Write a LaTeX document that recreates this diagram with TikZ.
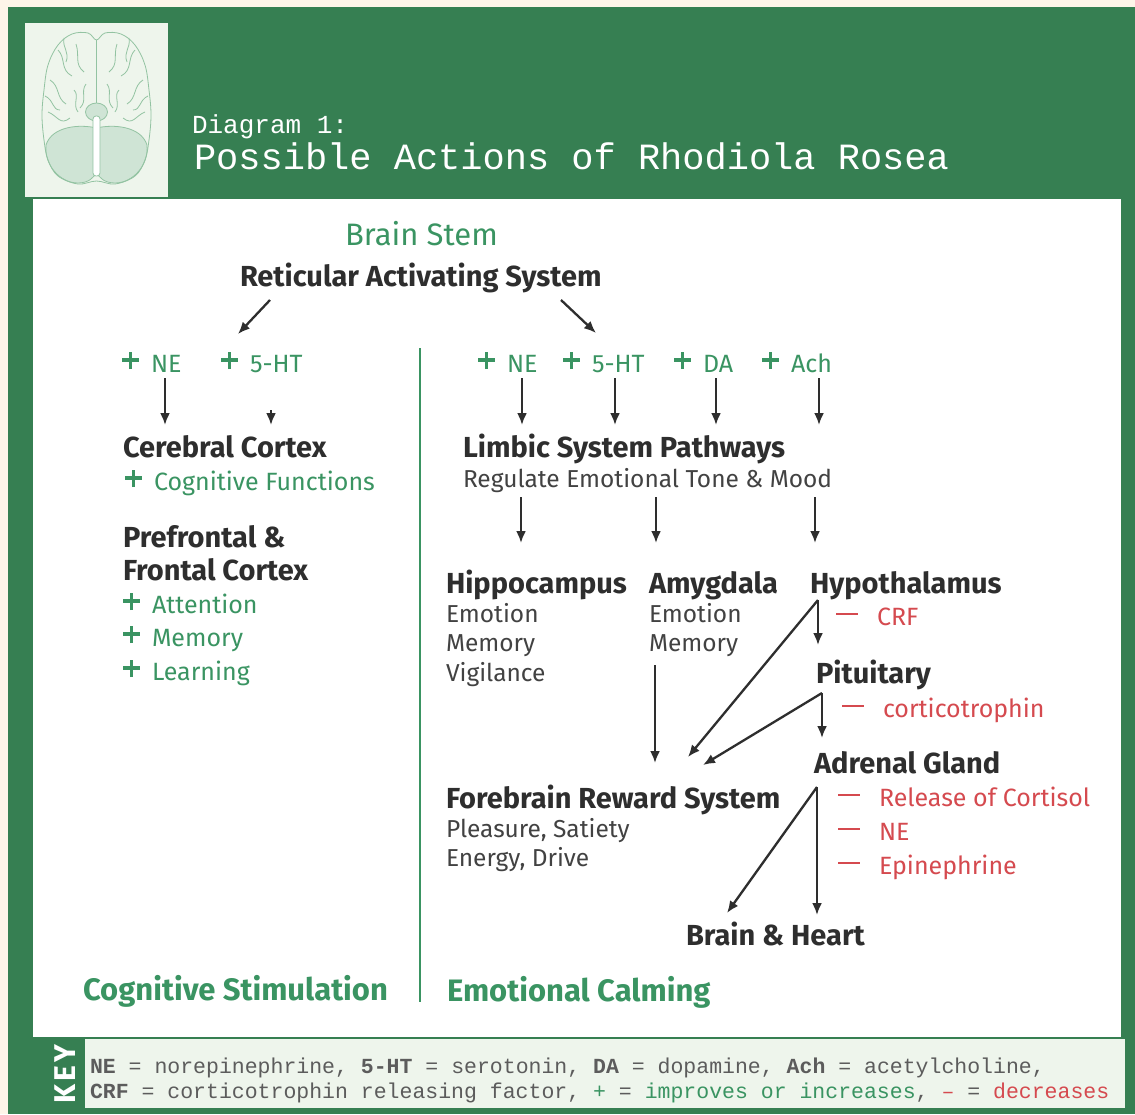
\documentclass[tikz,border=0pt]{standalone}
\usepackage{fontspec}
\setmainfont{Fira Sans}
\newfontfamily\monofont{Liberation Mono}
\usetikzlibrary{arrows.meta,calc,positioning}

\definecolor{cream}{HTML}{FEF5E9}
\definecolor{frame}{HTML}{367F52}
\definecolor{pale}{HTML}{EEF5EC}
\definecolor{leaf}{HTML}{3A9462}
\definecolor{alarm}{HTML}{D54A4F}
\definecolor{ink}{HTML}{2E2E2E}
\definecolor{inkk}{HTML}{424242}
\definecolor{keyink}{HTML}{5C5C5C}
\definecolor{brainline}{HTML}{93C3A2}
\definecolor{brainfill}{HTML}{CFE4D5}

\newcommand\plusmark{\makebox[29pt][l]{\rule[10pt]{17pt}{3.6pt}\hspace{-10.3pt}\rule[3pt]{3.6pt}{17pt}}}
\newcommand\minusmark{\makebox[41pt][l]{\rule[10pt]{22pt}{2.2pt}}}

\begin{document}
\begin{tikzpicture}[x=1pt,y=-1pt,
  every node/.style={inner sep=0pt,outer sep=0pt,anchor=base west},
  head/.style={font=\bfseries\fontsize{29}{34}\selectfont,text=ink},
  sub/.style={font=\fontsize{24.5}{30}\selectfont,text=inkk},
  good/.style={font=\fontsize{25}{30}\selectfont,text=leaf},
  bad/.style={font=\fontsize{25}{30}\selectfont,text=alarm},
  side/.style={font=\bfseries\fontsize{31}{34}\selectfont,text=leaf},
  keytext/.style={font=\monofont\fontsize{21.5}{25}\selectfont,text=keyink},
  link/.style={-{Latex[length=12pt,width=10pt]},line width=2.3pt,draw=ink}]

  \useasboundingbox (0,0) rectangle (1135,1114);
  \fill[cream] (0,0) rectangle (1135,1114);
  \fill[frame] (8,7) rectangle (1135,1114);
  \fill[pale] (25,23) rectangle (168,197);
  \fill[white] (33,199) rectangle (1121,1037);
  \fill[pale] (85,1039) rectangle (1125,1108);

  % brain
  \begin{scope}[draw=brainline,line width=0.8pt]
    \filldraw[fill=brainfill] (96.5,128) .. controls (80,124) and (52,126) .. (46,145)
      .. controls (44,165) and (60,183) .. (78,183) .. controls (88,183) and (94,178) .. (96.5,172)
      .. controls (99,178) and (105,183) .. (115,183) .. controls (133,183) and (149,165) .. (147,145)
      .. controls (141,126) and (113,124) .. (96.5,128) -- cycle;
    \draw plot[smooth cycle,tension=0.6] coordinates {(96.5,40) (88,33) (72,34) (58,45) (48,65)
      (44,90) (42,115) (44,140) (48,160) (58,176) (78,184) (96.5,181) (115,184) (135,176)
      (145,160) (149,140) (151,115) (149,90) (145,65) (135,45) (121,34) (105,33)};
    \draw (96.5,40) -- (96.5,104);
    \foreach \m in {0,1} {
      \begin{scope}[xshift=\m*193pt,xscale=1-2*\m]
        \draw (58,50) .. controls (66,58) and (60,70) .. (72,76);
        \draw (50,80) .. controls (60,86) and (56,98) .. (66,104);
        \draw (76,44) .. controls (80,56) and (74,64) .. (84,72);
        \draw (48,112) .. controls (58,116) and (60,126) .. (70,118);
        \draw (86,84) .. controls (80,92) and (88,100) .. (80,108);
        \draw (64,38) .. controls (62,48) and (70,52) .. (66,62);
        \draw (45,96) .. controls (54,100) and (52,110) .. (60,110);
        \draw (74,90) .. controls (80,96) and (72,104) .. (78,112);
      \end{scope}
    }
    \filldraw[fill=brainfill] (96.5,112) ellipse (11 and 9);
    \filldraw[fill=white,rounded corners=3pt] (93,116) rectangle (100,176);
  \end{scope}

  \node[font=\monofont\fontsize{26}{26}\selectfont,text=white] (dg) at (192,133) {Diagram 1:};
  \node[font=\monofont\fontsize{37}{37}\selectfont,text=white] (tt) at (194,169) {Possible Actions of Rhodiola Rosea};

  \node[side,font=\fontsize{31}{34}\selectfont] (stem) at (345,245) {Brain Stem};
  \node[head] (ras) at (240,286) {Reticular Activating System};

  \node[good] (lp1) at (122,372) {\plusmark NE};
  \node[good] (lp2) at (221,372) {\plusmark 5-HT};
  \node[good] (rp1) at (478,372) {\plusmark NE};
  \node[good] (rp2) at (563,372) {\plusmark 5-HT};
  \node[good] (rp3) at (674,372) {\plusmark DA};
  \node[good] (rp4) at (762,372) {\plusmark Ach};

  \node[head] (cc) at (123,457) {Cerebral Cortex};
  \node[good] (cog) at (125,490) {\plusmark Cognitive Functions};
  \node[head] (pre) at (123,547) {Prefrontal \&};
  \node[head,below=33pt of pre.base west,anchor=base west] (fro) {Frontal Cortex};
  \node[good,below=33pt of fro.base west,anchor=base west] (att) {\plusmark Attention};
  \node[good,below=33pt of att.base west,anchor=base west] (mem) {\plusmark Memory};
  \node[good,below=34pt of mem.base west,anchor=base west] (lea) {\plusmark Learning};

  \node[head] (limb) at (463,457) {Limbic System Pathways};
  \node[sub] (reg) at (463,487) {Regulate Emotional Tone \& Mood};

  \node[head] (hip) at (446,593) {Hippocampus};
  \node[sub,below=29pt of hip.base west,anchor=base west] (hE) {Emotion};
  \node[sub,below=29pt of hE.base west,anchor=base west] (hM) {Memory};
  \node[sub,below=30pt of hM.base west,anchor=base west] (hV) {Vigilance};

  \node[head] (amy) at (649,593) {Amygdala};
  \node[sub,below=29pt of amy.base west,anchor=base west] (aE) {Emotion};
  \node[sub,below=29pt of aE.base west,anchor=base west] (aM) {Memory};

  \node[head] (hyp) at (810,593) {Hypothalamus};
  \node[bad] (crf) at (836,625) {\minusmark CRF};
  \node[head] (pit) at (816,683) {Pituitary};
  \node[bad] (cor) at (842,717) {\minusmark corticotrophin};
  \node[head] (adr) at (814,773) {Adrenal Gland};
  \node[bad] (rel) at (838,806) {\minusmark Release of Cortisol};
  \node[bad,below=34pt of rel.base west,anchor=base west] (ne) {\minusmark NE};
  \node[bad,below=34pt of ne.base west,anchor=base west] (epi) {\minusmark Epinephrine};

  \node[head] (fore) at (446,808) {Forebrain Reward System};
  \node[sub,below=29pt of fore.base west,anchor=base west] (ple) {Pleasure, Satiety};
  \node[sub,below=29pt of ple.base west,anchor=base west] (ene) {Energy, Drive};

  \node[head] (bh) at (686,945) {Brain \& Heart};

  \node[side] (cs) at (83,1000) {Cognitive Stimulation};
  \node[side] (ec) at (447,1001) {Emotional Calming};
  \draw[leaf,line width=2pt] (420,348) -- (420,1002);

  \draw[link] ($(ras.base west)+(30,14)$) -- ($(lp2.base west)+(17,-38)$);
  \draw[link] ($(ras.base west)+(321,14)$) -- ($(rp1.base west)+(118,-39)$);
  \draw[link] ($(lp1.base west)+(43,6)$) -- ($(cc.base west)+(42,-32)$);
  \draw[link] ($(lp2.base west)+(50,38)$) -- ($(cc.base west)+(148,-32)$);
  \draw[link] ($(rp1.base west)+(44,6)$) -- ($(limb.base west)+(59,-32)$);
  \draw[link] ($(rp2.base west)+(52,6)$) -- ($(limb.base west)+(152,-32)$);
  \draw[link] ($(rp3.base west)+(42,6)$) -- ($(limb.base west)+(253,-32)$);
  \draw[link] ($(rp4.base west)+(57,6)$) -- ($(limb.base west)+(356,-32)$);

  \draw[link] ($(reg.base west)+(58,10)$) -- ($(hip.base west)+(75,-50)$);
  \draw[link] ($(reg.base west)+(193,10)$) -- ($(amy.base west)+(7,-50)$);
  \draw[link] ($(reg.base west)+(352,10)$) -- ($(hyp.base west)+(5,-50)$);

  \draw[link] ($(hyp.base west)+(8,7)$) -- ($(pit.base west)+(2,-38)$);
  \draw[link] ($(hyp.base west)+(8,7)$) -- ($(fore.base west)+(242,-51)$);
  \draw[link] ($(pit.base west)+(6,10)$) -- ($(adr.base west)+(8,-35)$);
  \draw[link] ($(pit.base west)+(6,10)$) -- ($(fore.base west)+(257,-43)$);
  \draw[link] ($(aM.base west)+(6,14)$) -- ($(fore.base west)+(209,-45)$);
  \draw[link] ($(adr.base west)+(3,14)$) -- ($(bh.base west)+(131,-30)$);
  \draw[link] ($(adr.base west)+(3,14)$) -- ($(bh.base west)+(41,-32)$);

  \node[rotate=90,anchor=center,text=white,font=\bfseries\fontsize{30}{30}\selectfont] (key) at (65,1074) {K\kern3pt E\kern3pt Y};
  \node[keytext] (k1) at (90,1073) {{\bfseries NE} = norepinephrine, {\bfseries 5-HT} = serotonin, {\bfseries DA} = dopamine, {\bfseries Ach} = acetylcholine,};
  \node[keytext] (k2) at (90,1098) {{\bfseries CRF} = corticotrophin releasing factor, \textcolor{leaf}{+} = \textcolor{leaf}{improves or increases}, \textcolor{alarm}{–} = \textcolor{alarm}{decreases}};
\end{tikzpicture}
\end{document}
